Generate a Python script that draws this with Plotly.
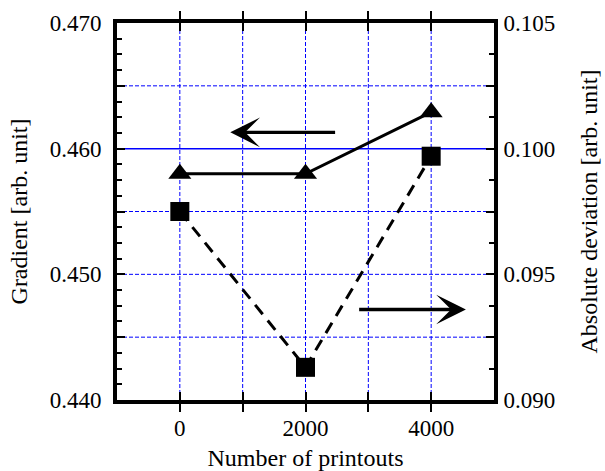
import plotly.graph_objects as go

# ---- data ----
printouts = [0, 2000, 4000]
gradient = [0.4580, 0.4580, 0.4629]          # left axis, triangles
abs_deviation = [0.0975, 0.0913, 0.0997]     # right axis, squares

x_tickvals = [-1000, 0, 1000, 2000, 3000, 4000, 5000]
x_ticktext = ["", "0", "", "2000", "", "4000", ""]
y_tickvals = [0.440, 0.445, 0.450, 0.455, 0.460, 0.465, 0.470]
y_ticktext = ["0.440", "", "0.450", "", "0.460", "", "0.470"]
y2_tickvals = [0.090, 0.0925, 0.095, 0.0975, 0.100, 0.1025, 0.105]
y2_ticktext = ["0.090", "", "0.095", "", "0.100", "", "0.105"]
x_grid = [0, 1000, 2000, 3000, 4000]
y_grid_dashed = [0.445, 0.450, 0.455, 0.465]
y_grid_solid = [0.460]

# arrows: (tip_x, tip_y, tail_x, tail_y) in left-axis data coords
arrow_left = [803, 0.4613, 2495, 0.4613]
arrow_right = [4553, 0.4472, 2830, 0.4472]

FONT = "Liberation Serif, Times New Roman, Times, serif"
BLUE = "#0000ff"
TICK_SIZE = 23
TITLE_SIZE = 24

fig = go.Figure()
fig.add_trace(go.Scatter(
    x=printouts, y=abs_deviation, yaxis="y2", mode="lines+markers",
    line=dict(color="black", width=3, dash="12px,8px"),
    marker=dict(symbol="square", size=19, color="black"),
    showlegend=False))
fig.add_trace(go.Scatter(
    x=printouts, y=gradient, mode="lines+markers",
    line=dict(color="black", width=3),
    marker=dict(symbol="triangle-up", size=20, color="black"),
    showlegend=False))

for gx in x_grid:
    fig.add_vline(x=gx, line=dict(color=BLUE, width=1, dash="4px,2px"), layer="below")
for gy in y_grid_dashed:
    fig.add_hline(y=gy, line=dict(color=BLUE, width=1, dash="4px,2px"), layer="below")
for gy in y_grid_solid:
    fig.add_hline(y=gy, line=dict(color=BLUE, width=1.5), layer="below")

for a in (arrow_left, arrow_right):
    fig.add_annotation(x=a[0], y=a[1], ax=a[2], ay=a[3], xref="x", yref="y",
                       axref="x", ayref="y", text="", showarrow=True,
                       arrowhead=3, arrowsize=1.5, arrowwidth=3.3, arrowcolor="black")

axis_common = dict(
    showline=True, linewidth=4, linecolor="black",
    ticks="inside", tickcolor="black", tickwidth=2,
    tickfont=dict(family=FONT, size=TICK_SIZE, color="black"),
    zeroline=False, automargin=False, showgrid=False,
)

fig.update_layout(
    width=605, height=471,
    margin=dict(l=116.5, r=110.5, t=22.5, b=70.5),
    paper_bgcolor="white", plot_bgcolor="white",
    font=dict(family=FONT, size=TICK_SIZE, color="black"),
    xaxis=dict(
        **axis_common, range=[-1000, 5000], tickvals=x_tickvals, ticktext=x_ticktext,
        ticklen=8, mirror="allticks", ticklabelstandoff=4,
        title=dict(text="Number of printouts", font=dict(family=FONT, size=TITLE_SIZE, color="black"), standoff=12),
    ),
    yaxis=dict(
        **axis_common, range=[0.440, 0.470], tickvals=y_tickvals, ticktext=y_ticktext,
        ticklen=8,
        minor=dict(dtick=0.00125, tick0=0.44, ticks="inside", ticklen=5, tickwidth=2,
                   tickcolor="black", showgrid=False),
        ticklabelstandoff=7,
        title=dict(text="Gradient [arb. unit]", font=dict(family=FONT, size=TITLE_SIZE, color="black"), standoff=16),
    ),
    yaxis2=dict(
        **axis_common, range=[0.090, 0.105], tickvals=y2_tickvals, ticktext=y2_ticktext,
        ticklen=8, overlaying="y", side="right",
        minor=dict(dtick=0.00125, tick0=0.09, ticks="inside", ticklen=5, tickwidth=2,
                   tickcolor="black", showgrid=False),
        ticklabelstandoff=1,
        title=dict(text="Absolute deviation [arb. unit]", font=dict(family=FONT, size=TITLE_SIZE, color="black"), standoff=27),
    ),
)

fig.write_html("out.html")
